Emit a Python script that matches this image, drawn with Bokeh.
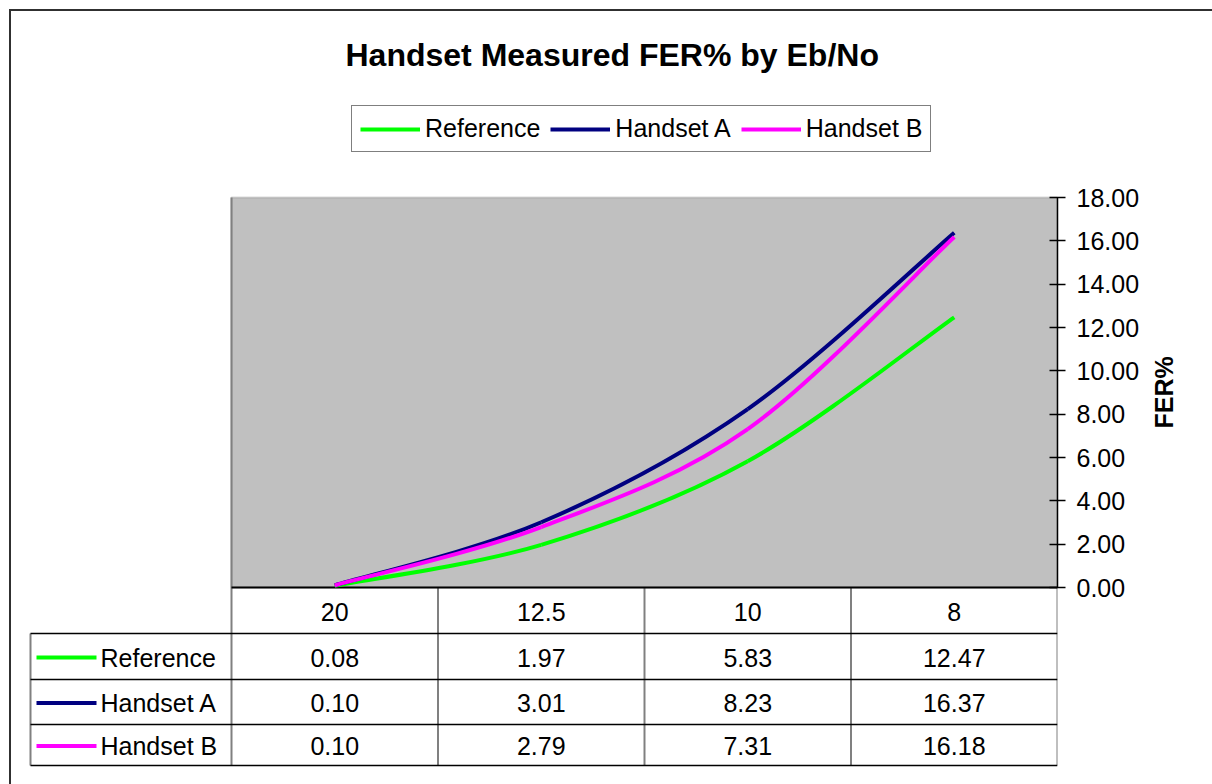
import math
from bokeh.plotting import figure
from bokeh.models import (Range1d, LinearAxis, FixedTicker, NumeralTickFormatter,
                          Legend, LegendItem, BoxAnnotation, ColumnDataSource)
from bokeh.core.properties import value
from bokeh.embed import file_html
from bokeh.resources import INLINE

# ---------------- data ----------------
categories = ["20", "12.5", "10", "8"]
reference = [0.08, 1.97, 5.83, 12.47]
handset_a = [0.10, 3.01, 8.23, 16.37]
handset_b = [0.10, 2.79, 7.31, 16.18]
series_names = ["Reference", "Handset A", "Handset B"]
series_values = [reference, handset_a, handset_b]
series_colors = ["#00FF00", "#000080", "#FF00FF"]
y_ticks = [0, 2, 4, 6, 8, 10, 12, 14, 16, 18]
title_text = "Handset Measured FER% by Eb/No"
y_label = "FER%"

FONT = "Liberation Sans"
FS = "25px"

# ---------------- geometry (page pixels; page has no margin) ----------------
W, H = 1212, 784
TOP = 72                      # frame top (title sits in the panel above)
PLOT_L, PLOT_R = 231, 1057
PLOT_T, PLOT_B = 197, 587
Y_MAX = y_ticks[-1]
CAT_W = (PLOT_R - PLOT_L) / len(categories)
PX_Y = (PLOT_B - PLOT_T) / Y_MAX
TABLE_L = 30
ROW_LINES = [587, 633, 679, 724, 765]


def dx(px):
    return (px - PLOT_L) / CAT_W


def dy(py):
    return (PLOT_B - py) / PX_Y


p = figure(width=W, height=H, title=title_text,
           x_range=Range1d(dx(0), dx(PLOT_R)),
           y_range=Range1d(dy(H), dy(TOP)),
           output_backend="svg", toolbar_location=None,
           x_axis_type=None, y_axis_type=None,
           min_border_left=0, min_border_right=W - PLOT_R,
           min_border_top=TOP, min_border_bottom=0,
           background_fill_color=None, border_fill_color=None,
           outline_line_color=None,
           styles={"box-shadow": "inset 9px 9px 0 0 #ffffff, inset 11px 11px 0 0 #303030"})
p.xgrid.visible = False
p.ygrid.visible = False

p.title.align = "left"
p.title.offset = 345
p.title.standoff = 0
p.title.vertical_align = "bottom"
p.title.text_font = FONT
p.title.text_font_size = "32px"
p.title.text_font_style = "bold"
p.title.text_color = "black"

# plot area
p.add_layout(BoxAnnotation(left=0, right=len(categories), bottom=0, top=Y_MAX,
                           fill_color="#C0C0C0", fill_alpha=1.0,
                           line_color="#808080", line_width=2, level="underlay"))

# right value axis
yaxis = LinearAxis(bounds=(0, Y_MAX), ticker=FixedTicker(ticks=y_ticks),
                   formatter=NumeralTickFormatter(format="0.00"),
                   major_tick_in=8, major_tick_out=8,
                   minor_tick_line_color=None,
                   major_label_standoff=11,
                   major_label_text_font=FONT,
                   major_label_text_font_size=FS,
                   major_label_text_color="black",
                   axis_line_color="black", axis_line_width=1.5,
                   major_tick_line_color="black", major_tick_line_width=1.5,
                   axis_label=y_label, axis_label_standoff=22,
                   axis_label_text_font=FONT, axis_label_text_font_size=FS,
                   axis_label_text_font_style="bold", axis_label_text_color="black")
if "axis_label_orientation" in yaxis.properties():
    yaxis.axis_label_orientation = math.pi / 2
p.add_layout(yaxis, "right")

# ---------------- table grid ----------------
n = len(categories)
vx0, vy0, vx1, vy1 = [], [], [], []
for i in range(n + 1):
    vx0.append(i); vx1.append(i)
    vy0.append(dy(ROW_LINES[-1])); vy1.append(dy(PLOT_T if i == 0 else ROW_LINES[0]))
vx0.append(dx(TABLE_L)); vx1.append(dx(TABLE_L))
vy0.append(dy(ROW_LINES[1])); vy1.append(dy(ROW_LINES[-1]))
p.segment(x0=vx0, y0=vy0, x1=vx1, y1=vy1, line_color="#808080", line_width=2)
hx0, hy0, hx1, hy1 = [], [], [], []
for r in ROW_LINES[1:]:
    hx0.append(dx(TABLE_L)); hx1.append(n)
    hy0.append(dy(r)); hy1.append(dy(r))
p.segment(x0=hx0, y0=hy0, x1=hx1, y1=hy1, line_color="black", line_width=1.5)
p.segment(x0=[0], y0=[0], x1=[n], y1=[0], line_color="black", line_width=2)

# ---------------- series (smoothed like Excel) ----------------
renderers = []
for name, vals, col in zip(series_names, series_values, series_colors):
    xs = [i + 0.5 for i in range(len(vals))]
    m = len(vals)
    d = dict(x0=[], y0=[], x1=[], y1=[], cx0=[], cy0=[], cx1=[], cy1=[])
    for i in range(m - 1):
        i0, i3 = max(i - 1, 0), min(i + 2, m - 1)
        d["x0"].append(xs[i]); d["y0"].append(vals[i])
        d["x1"].append(xs[i + 1]); d["y1"].append(vals[i + 1])
        d["cx0"].append(xs[i] + (xs[i + 1] - xs[i0]) / 6)
        d["cy0"].append(vals[i] + (vals[i + 1] - vals[i0]) / 6)
        d["cx1"].append(xs[i + 1] - (xs[i3] - xs[i]) / 6)
        d["cy1"].append(vals[i + 1] - (vals[i3] - vals[i]) / 6)
    r = p.bezier(source=ColumnDataSource(d), x0="x0", y0="y0", x1="x1", y1="y1",
                 cx0="cx0", cy0="cy0", cx1="cx1", cy1="cy1",
                 line_color=col, line_width=4)
    renderers.append(r)

# ---------------- table text ----------------
row_centers = [(ROW_LINES[k] + ROW_LINES[k + 1]) / 2 for k in range(len(ROW_LINES) - 1)]
txt_common = dict(text_font=value(FONT), text_font_size=FS, text_color="black",
                  text_baseline="middle")
p.text(x=[i + 0.5 for i in range(n)], y=[dy(row_centers[0] + 1)] * n, text=categories,
       text_align="center", **txt_common)
for k, (name, vals, col) in enumerate(zip(series_names, series_values, series_colors)):
    yc = dy(row_centers[k + 1] + 1)
    p.text(x=[i + 0.5 for i in range(n)], y=[yc] * n,
           text=["%.2f" % v for v in vals], text_align="center", **txt_common)
    p.segment(x0=[dx(36)], y0=[yc], x1=[dx(96)], y1=[yc], line_color=col, line_width=4)
    p.text(x=[dx(100)], y=[yc], text=[name], text_align="left", **txt_common)

# ---------------- legend ----------------
legend = Legend(items=[LegendItem(label=nm, renderers=[r]) for nm, r in zip(series_names, renderers)],
                orientation="horizontal", location=(351, H - 152),
                border_line_color="black", border_line_width=1,
                background_fill_color="white", background_fill_alpha=1.0,
                padding=8, spacing=10, margin=0, label_standoff=5,
                glyph_width=60, glyph_height=20,
                label_text_font=FONT, label_text_font_size=FS,
                label_text_color="black")
p.add_layout(legend)

open("out.html", "w").write(file_html(p, INLINE))
